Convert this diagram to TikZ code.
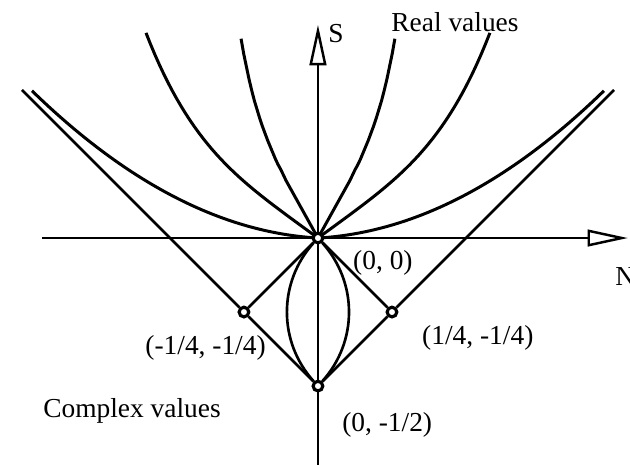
\documentclass[tikz,border=0pt]{standalone}
\usepackage{fontspec}
\setmainfont{Liberation Serif}
\usetikzlibrary{arrows.meta}

\begin{document}
\begin{tikzpicture}[
  x=5.92cm, y=5.92cm,
  axis/.style={line width=1.4pt, -{Triangle[open, length=23pt, width=9.5pt]}},
  curve/.style={line width=1.7pt},
  edge/.style={line width=1.5pt},
  pt/.style={circle, draw, line width=1.8pt, fill=white, inner sep=0pt, minimum size=5.5pt},
  every node/.style={font=\fontsize{15.6}{18}\selectfont, inner sep=0pt}
]
  \useasboundingbox (-1.074,-0.764) rectangle (1.054,0.804);

  % --- axes N and S ---
  \draw[axis] (-0.932,0) -- (1.047,0);
  \draw[axis] (0,-0.8) -- (0,0.72);
  \node[anchor=base west] (nlab) at (1.003,-0.159) {N};
  \node[anchor=base west] (slab) at (0.034,0.659) {S};

  % --- real-valued branches through the origin ---
  \foreach \s in {-1,1} {
    \draw[curve] plot[domain=0:0.26, samples=30] ({\s*\x},{1.8*\x+175*\x^5});
    \draw[curve] plot[domain=0:0.581, samples=40] ({\s*\x},{0.729*\x+2.369*\x^4});
    \draw[curve] plot[domain=0:0.966, samples=50] ({\s*\x},{0.057*\x+0.474*\x^2});
  }

  % --- special points ---
  \node[pt] (o) at (0,0) {};
  \node[pt] (l) at (-0.25,-0.25) {};
  \node[pt] (r) at (0.25,-0.25) {};
  \node[pt] (b) at (0,-0.5) {};
  \coordinate (vl) at (-1,0.5);
  \coordinate (vr) at (1,0.5);

  % square and the two boundary lines
  \draw[edge] (o) -- (l) -- (b) -- (r) -- (o);
  \draw[edge] (l) -- (vl);
  \draw[edge] (r) -- (vr);

  % lens between (0,0) and (0,-1/2)
  \draw[edge] (o) .. controls (0.135,-0.15) and (0.135,-0.35) .. (b);
  \draw[edge] (o) .. controls (-0.135,-0.15) and (-0.135,-0.35) .. (b);

  % --- labels ---
  \node[anchor=base west] (real) at (0.247,0.696) {Real values};
  \node[anchor=base west] (cplx) at (-0.929,-0.605) {Complex values};
  \node[anchor=base west] (olab) at (0.118,-0.105) {(0, 0)};
  \node[anchor=base west] (rlab) at (0.351,-0.361) {(1/4, -1/4)};
  \node[anchor=base west] (llab) at (-0.584,-0.392) {(-1/4, -1/4)};
  \node[anchor=base west] (blab) at (0.081,-0.655) {(0, -1/2)};

\end{tikzpicture}
\end{document}
